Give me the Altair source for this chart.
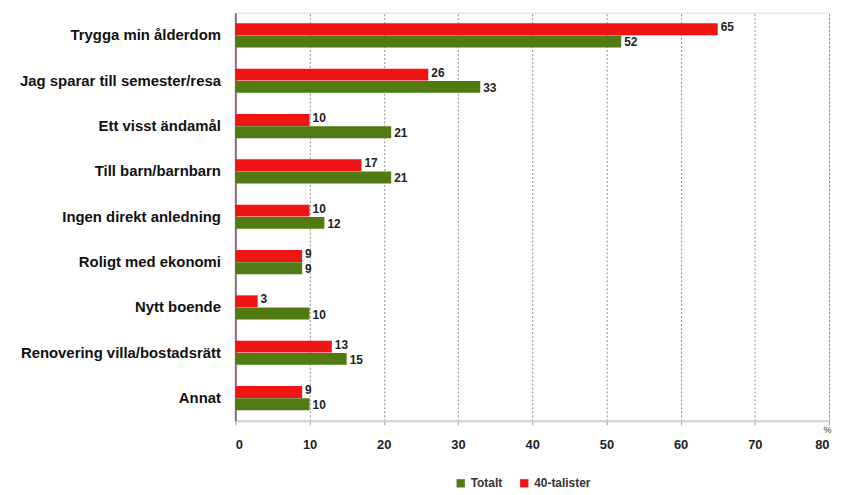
import altair as alt
import pandas as pd

categories = [
    "Trygga min ålderdom",
    "Jag sparar till semester/resa",
    "Ett visst ändamål",
    "Till barn/barnbarn",
    "Ingen direkt anledning",
    "Roligt med ekonomi",
    "Nytt boende",
    "Renovering villa/bostadsrätt",
    "Annat",
]
totalt = [52, 33, 21, 21, 12, 9, 10, 15, 10]
fyrtiotalister = [65, 26, 10, 17, 10, 9, 3, 13, 9]
series = ["Totalt", "40-talister"]
colors = ["#527a12", "#f01414"]
x_ticks = [0, 10, 20, 30, 40, 50, 60, 70, 80]

rows = []
for c, t, f in zip(categories, totalt, fyrtiotalister):
    rows.append({"kat": c, "serie": "40-talister", "v": f})
    rows.append({"kat": c, "serie": "Totalt", "v": t})
df = pd.DataFrame(rows)

FONT = "Liberation Sans"

y_enc = alt.Y(
    "kat:N",
    sort=categories,
    title=None,
    scale=alt.Scale(paddingInner=0.46, paddingOuter=0.23),
    axis=alt.Axis(
        ticks=False,
        labelPadding=15,
        labelFont=FONT,
        labelFontSize=15,
        labelFontWeight="bold",
        labelColor="#111111",
        domainColor="#8c6f7f",
        domainWidth=2,
        labelLimit=300,
    ),
)
yoff = alt.YOffset(
    "serie:N",
    sort=["40-talister", "Totalt"],
    scale=alt.Scale(paddingInner=0, paddingOuter=0),
)
x_enc = alt.X(
    "v:Q",
    scale=alt.Scale(domain=[0, 80], nice=False),
    axis=alt.Axis(
        values=x_ticks,
        title="%",
        titleX=596,
        titleY=9,
        titleAlign="center",
        titleBaseline="middle",
        titleFontSize=9,
        titleFont=FONT,
        titleFontWeight="normal",
        titleColor="#333333",
        labelFont=FONT,
        labelFontSize=13,
        labelFontWeight="bold",
        labelColor="#222222",
        labelPadding=14,
        tickSize=4,
        tickColor="#999999",
        domainColor="#d0d0d0",
        domainWidth=2,
        grid=True,
        gridColor="#8a8a8a",
        gridDash=[2, 2],
        gridWidth=1,
    ),
)

color_enc = alt.Color(
    "serie:N",
    scale=alt.Scale(domain=series, range=colors),
    legend=alt.Legend(
        title=None,
        orient="none",
        direction="horizontal",
        legendX=221,
        legendY=468,
        symbolType="square",
        symbolSize=70,
        symbolStrokeWidth=0,
        labelFont=FONT,
        labelFontSize=12,
        labelFontWeight="bold",
        labelColor="#333333",
        columnPadding=16,
    ),
)

base = alt.Chart(df)

bars = base.mark_bar(size=12).encode(
    x=x_enc,
    y=y_enc,
    yOffset=yoff,
    color=color_enc,
)

text_style = dict(align="left", baseline="middle", dx=3, font=FONT, fontSize=12, fontWeight="bold", color="#222222")

labels_red = base.transform_filter(alt.datum.serie == "40-talister").mark_text(dy=-2, **text_style).encode(
    x="v:Q", y=alt.Y("kat:N", sort=categories), yOffset=yoff, text="v:Q"
)
labels_green = base.transform_filter(alt.datum.serie == "Totalt").mark_text(dy=1, **text_style).encode(
    x="v:Q", y=alt.Y("kat:N", sort=categories), yOffset=yoff, text="v:Q"
)

chart = (
    alt.layer(bars, labels_red, labels_green)
    .properties(
        width=598,
        height=411,
        autosize=alt.AutoSizeParams(type="none"),
        padding={"left": 229, "top": 3, "right": 5, "bottom": 72},
    )
    .configure_view(stroke=None)
    .configure(background="white")
)

chart.save("out.html", embed_options={"renderer": "svg", "actions": False})
